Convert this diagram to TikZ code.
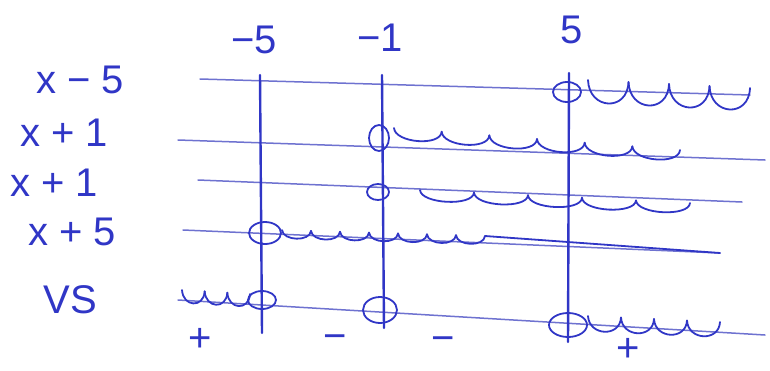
\documentclass[tikz,border=0pt]{standalone}
\usepackage{fontspec}
\setmainfont{Liberation Sans}
\usetikzlibrary{calc,shapes.geometric}
\definecolor{Ink}{HTML}{3036C6}
\definecolor{Faint}{HTML}{6E72D0}

% #1 start, #2 end, #3 humps, #4 depth
\newcommand{\signwave}[4]{%
  \foreach \i in {1,...,#3}{
    \draw[wave] ($(#1)!{(\i-1)/#3}!(#2)$)
      .. controls +(1,#4) and +(-1,#4) .. ($(#1)!{\i/#3}!(#2)$);
  }}

\begin{document}
\begin{tikzpicture}[x=1pt,y=-1pt,
    factor/.style={text=Ink,font=\fontsize{40}{44}\selectfont},
    guide/.style={Faint,line width=1.5pt,line cap=round},
    cut/.style={Ink,line width=2.4pt,line cap=round},
    root/.style={draw=Ink,line width=1.8pt,ellipse,inner sep=0pt},
    wave/.style={Ink,line width=1.8pt,line cap=round,line join=round}]
  \useasboundingbox (0,0) rectangle (770,370);
  % factors
  \node[factor] (fA) at (80,80) {x − 5};
  \node[factor] (fB) at (64,133) {x + 1};
  \node[factor] (fC) at (54,183) {x + 1};
  \node[factor] (fD) at (72,232) {x + 5};
  \node[factor] (fE) at (70,300) {VS};
  % critical values
  \node[factor] (vA) at (254,40) {−5};
  \node[factor] (vB) at (380,38) {−1};
  \node[factor] (vC) at (572,30) {5};
  % row lines
  \coordinate (aL) at (200,79);  \coordinate (aR) at (750,95);
  \coordinate (bL) at (178,140); \coordinate (bR) at (765,160);
  \coordinate (cL) at (198,180); \coordinate (cR) at (742,202);
  \coordinate (dL) at (183,230); \coordinate (dR) at (720,253);
  \coordinate (eL) at (178,300); \coordinate (eR) at (765,335);
  \draw[guide] (aL) -- (aR);
  \draw[guide] (bL) -- (bR);
  \draw[guide] (cL) -- (cR);
  \draw[guide] (dL) -- (dR);
  \draw[guide] (eL) -- (eR);
  % verticals
  \coordinate (tA) at (260,75); \coordinate (bA) at (262,333);
  \coordinate (tB) at (382,75); \coordinate (bB) at (384,328);
  \coordinate (tC) at (569,73); \coordinate (bC) at (568,342);
  \draw[cut] (tA) -- (bA);
  \draw[cut] (tB) -- (bB);
  \draw[cut] (tC) -- (bC);
  % zeros
  \node[root,minimum width=28pt,minimum height=20pt] (zA) at (567,92) {};
  \node[root,minimum width=20pt,minimum height=26pt] (zB) at (379,138) {};
  \node[root,minimum width=22pt,minimum height=16pt] (zC) at (378,192) {};
  \node[root,minimum width=32pt,minimum height=22pt] (zD) at (265,233) {};
  \node[root,minimum width=28pt,minimum height=18pt] (zE) at (262,300) {};
  \node[root,minimum width=34pt,minimum height=26pt] (zF) at (380,310) {};
  \node[root,minimum width=38pt,minimum height=24pt] (zG) at (568,325) {};
  % waves
  \coordinate (wA0) at (588,80);  \coordinate (wA) at (750,88);
  \coordinate (wB0) at (394,128); \coordinate (wB) at (680,150);
  \coordinate (wC0) at (420,190); \coordinate (wC) at (690,203);
  \coordinate (wD0) at (282,230); \coordinate (wD1) at (485,236);
  \coordinate (wD) at (720,253);
  \coordinate (wE) at (182,290);  \coordinate (wE1) at (250,294);
  \coordinate (wG0) at (588,316); \coordinate (wG) at (720,322);
  \signwave{wA0}{wA}{4}{30}
  \signwave{wB0}{wB}{6}{15}
  \signwave{wC0}{wC}{5}{14}
  \signwave{wD0}{wD1}{7}{11}
  \draw[wave] (wD1) -- (wD);
  \signwave{wE}{wE1}{3}{17}
  \signwave{wG0}{wG}{4}{20}
  % signs
  \node[factor] (sA) at (200,340) {+};
  \node[factor] (sB) at (335,342) {−};
  \node[factor] (sC) at (443,344) {−};
  \node[factor] (sD) at (628,350) {+};
\end{tikzpicture}
\end{document}
